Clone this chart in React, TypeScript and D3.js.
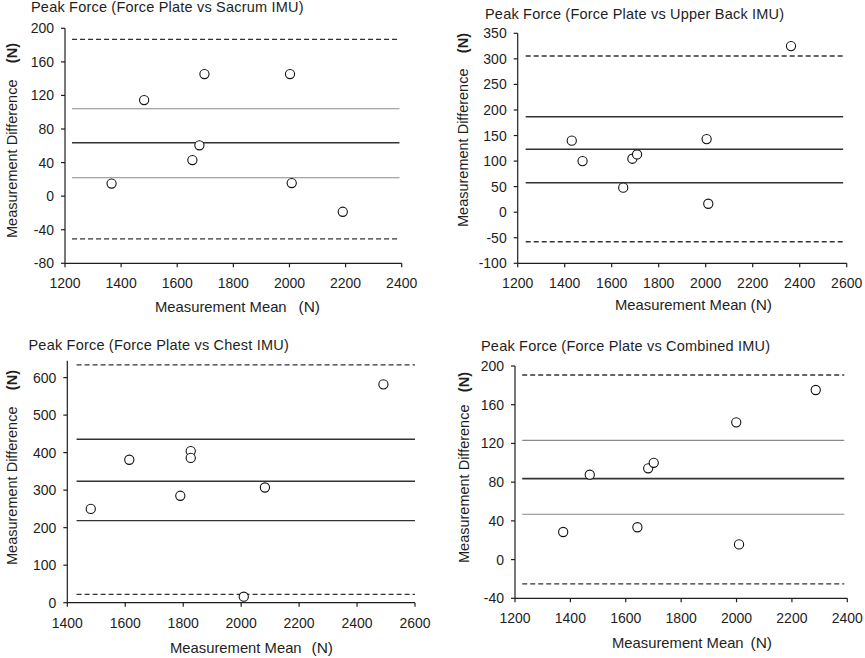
import * as d3 from "d3";

const FONT = '"Liberation Sans", Arial, Helvetica, sans-serif';
const INK = "#1e1e1e";

// Sacrum IMU
const sacrumMeans = [1366, 1482, 1654, 1679, 1697, 2002, 2008, 2190];
const sacrumDiffs = [15, 114.5, 43, 60.6, 145.5, 145.5, 15.6, -18.6];
const sacrumBias = 63.7;
const sacrumBand = [104.2, 22];
const sacrumLoA = [186.9, -51];

// Upper back IMU
const upperMeans = [1430, 1476, 1649, 1688, 1708, 2004, 2011, 2363];
const upperDiffs = [140, 100, 48, 104.6, 113, 143, 16.5, 325];
const upperBias = 123;
const upperBand = [186.8, 57.6];
const upperLoA = [305.6, -57.8];

// Chest IMU
const chestMeans = [1481, 1614, 1790, 1826, 1826, 2082, 2009, 2491];
const chestDiffs = [250, 381, 285, 404, 386, 307, 16, 582];
const chestBias = 323.7;
const chestBand = [435.7, 218.7];
const chestLoA = [633.9, 22.4];

// Combined IMU
const combinedMeans = [1374, 1470, 1642, 1681, 1701, 1999, 2009, 2286];
const combinedDiffs = [28.5, 87.7, 33.4, 94.3, 100, 141.8, 15.7, 175.2];
const combinedBias = 83.6;
const combinedBand = [123.2, 46.8];
const combinedLoA = [190.7, -25.2];

const ticks1200to2400 = [1200, 1400, 1600, 1800, 2000, 2200, 2400];
const ticks1200to2600 = [1200, 1400, 1600, 1800, 2000, 2200, 2400, 2600];
const ticks1400to2600 = [1400, 1600, 1800, 2000, 2200, 2400, 2600];

interface PanelProps {
  title: string;
  means: number[];
  diffs: number[];
  bias: number;
  band: number[];
  loa: number[];
  xTicks: number[];
  yTicks: number[];
  yMax: number;
  lineFrom: number;
  lineTo: number;
  bandColor: string;
  box: { l: number; t: number; r: number; b: number };
  titleX: number;
  titleY: number;
  yLab: { x: number; y0: number; y1: number };
  xLab: { x0: number; x1: number; y: number };
}

function Panel(p: PanelProps) {
  const x = d3
    .scaleLinear()
    .domain([p.xTicks[0], p.xTicks[p.xTicks.length - 1]])
    .range([p.box.l, p.box.r]);
  const y = d3
    .scaleLinear()
    .domain([p.yTicks[0], p.yMax])
    .range([p.box.b, p.box.t]);

  const hline = (v: number, stroke: string, w: number, dash?: string, key?: string) => (
    <line
      key={key}
      x1={x(p.lineFrom)}
      x2={x(p.lineTo)}
      y1={y(v)}
      y2={y(v)}
      stroke={stroke}
      strokeWidth={w}
      strokeDasharray={dash}
    />
  );

  return (
    <g fontFamily={FONT} fill={INK}>
      <text x={p.titleX} y={p.titleY} fontSize={14.5} letterSpacing={0.2}>
        {p.title}
      </text>

      {/* axes */}
      <line x1={p.box.l} x2={p.box.l} y1={p.box.t} y2={p.box.b} stroke={INK} strokeWidth={1.2} />
      <line x1={p.box.l} x2={p.box.r} y1={p.box.b} y2={p.box.b} stroke={INK} strokeWidth={1.2} />
      {p.yTicks.map((t) => (
        <g key={"y" + t}>
          <line x1={p.box.l - 4} x2={p.box.l} y1={y(t)} y2={y(t)} stroke={INK} strokeWidth={1.2} />
          <text x={p.box.l - 11} y={y(t)} dy="0.36em" textAnchor="end" fontSize={14}>
            {t}
          </text>
        </g>
      ))}
      {p.xTicks.map((t) => (
        <g key={"x" + t}>
          <line x1={x(t)} x2={x(t)} y1={p.box.b} y2={p.box.b + 4} stroke={INK} strokeWidth={1.2} />
          <text x={x(t)} y={p.box.b + 25} textAnchor="middle" fontSize={14}>
            {t}
          </text>
        </g>
      ))}

      {/* agreement lines */}
      {p.loa.map((v, i) => hline(v, "#333", 1.3, "5,3", "loa" + i))}
      {p.band.map((v, i) => hline(v, p.bandColor, p.bandColor === "#333" ? 1.4 : 1.1, undefined, "band" + i))}
      {hline(p.bias, "#333", 1.6, undefined, "bias")}

      {/* points */}
      {p.means.map((m, i) => (
        <circle
          key={i}
          cx={x(m)}
          cy={y(p.diffs[i])}
          r={4.6}
          fill="#fff"
          stroke="#111"
          strokeWidth={1.1}
        />
      ))}

      {/* axis titles */}
      <g transform={`translate(${p.yLab.x},0) rotate(-90)`}>
        <text x={-p.yLab.y0} y={0} fontSize={14.5}>
          Measurement Difference
        </text>
        <text x={-p.yLab.y1} y={0} fontSize={14.5} fontWeight="bold" textAnchor="end">
          (N)
        </text>
      </g>
      <text x={p.xLab.x0} y={p.xLab.y} fontSize={14.8}>
        Measurement Mean
      </text>
      <text x={p.xLab.x1} y={p.xLab.y} fontSize={15.5} textAnchor="end">
        (N)
      </text>
    </g>
  );
}

export default function App() {
  return (
    <svg
      width={865}
      height={658}
      style={{ position: "absolute", left: 0, top: 0, background: "#fff" }}
    >
      <Panel
        title="Peak Force (Force Plate vs Sacrum IMU)"
        means={sacrumMeans}
        diffs={sacrumDiffs}
        bias={sacrumBias}
        band={sacrumBand}
        loa={sacrumLoA}
        xTicks={ticks1200to2400}
        yTicks={[-80, -40, 0, 40, 80, 120, 160, 200]}
        yMax={200}
        lineFrom={1225}
        lineTo={2392}
        bandColor="#8a8a8a"
        box={{ l: 65, t: 28.3, r: 401.7, b: 263.3 }}
        titleX={31}
        titleY={12}
        yLab={{ x: 17, y0: 238, y1: 43 }}
        xLab={{ x0: 155, x1: 320, y: 312 }}
      />
      <Panel
        title="Peak Force (Force Plate vs Upper Back IMU)"
        means={upperMeans}
        diffs={upperDiffs}
        bias={upperBias}
        band={upperBand}
        loa={upperLoA}
        xTicks={ticks1200to2600}
        yTicks={[-100, -50, 0, 50, 100, 150, 200, 250, 300, 350]}
        yMax={350}
        lineFrom={1234}
        lineTo={2585}
        bandColor="#333"
        box={{ l: 517.7, t: 33.3, r: 846.7, b: 263.3 }}
        titleX={485}
        titleY={19}
        yLab={{ x: 468, y0: 227, y1: 33 }}
        xLab={{ x0: 615, x1: 772, y: 310 }}
      />
      <Panel
        title="Peak Force (Force Plate vs Chest IMU)"
        means={chestMeans}
        diffs={chestDiffs}
        bias={chestBias}
        band={chestBand}
        loa={chestLoA}
        xTicks={ticks1400to2600}
        yTicks={[0, 100, 200, 300, 400, 500, 600]}
        yMax={645}
        lineFrom={1432}
        lineTo={2600}
        bandColor="#333"
        box={{ l: 67.3, t: 360.7, r: 415, b: 602.7 }}
        titleX={28.5}
        titleY={350}
        yLab={{ x: 17, y0: 565, y1: 370 }}
        xLab={{ x0: 170, x1: 333, y: 653 }}
      />
      <Panel
        title="Peak Force (Force Plate vs Combined IMU)"
        means={combinedMeans}
        diffs={combinedDiffs}
        bias={combinedBias}
        band={combinedBand}
        loa={combinedLoA}
        xTicks={ticks1200to2400}
        yTicks={[-40, 0, 40, 80, 120, 160, 200]}
        yMax={200}
        lineFrom={1226}
        lineTo={2389}
        bandColor="#8a8a8a"
        box={{ l: 515, t: 366, r: 847.3, b: 598.3 }}
        titleX={481}
        titleY={351}
        yLab={{ x: 469, y0: 563, y1: 372 }}
        xLab={{ x0: 612, x1: 772, y: 648 }}
      />
    </svg>
  );
}
